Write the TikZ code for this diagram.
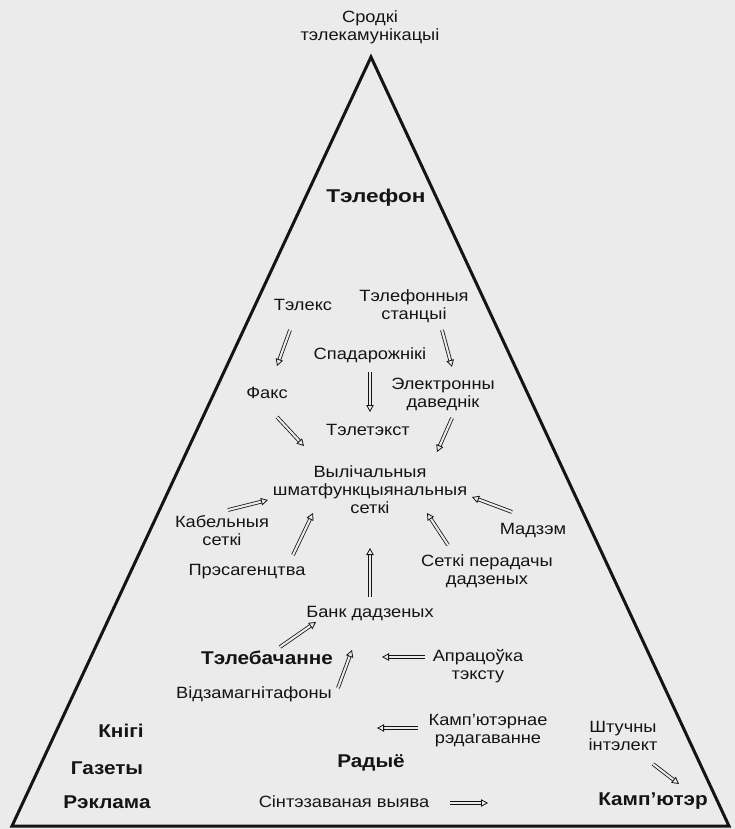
\documentclass[tikz,border=0pt]{standalone}
\usepackage{fontspec}
\setmainfont{Liberation Sans}[FakeStretch=1.12]
\usetikzlibrary{arrows.meta}
\definecolor{paper}{gray}{0.92}
\definecolor{ink}{gray}{0.08}
\begin{document}
\begin{tikzpicture}[x=1pt,y=-1pt,
  lbl/.style={font=\fontsize{16.3}{18}\selectfont, align=center, inner sep=0pt, text=ink},
  blbl/.style={font=\fontsize{18.5}{20}\selectfont\bfseries, align=center, inner sep=0pt, text=ink},
  harr/.style={draw=ink, line width=0.8pt, double=paper, double distance=2.1pt, -{Triangle[open, length=7pt, width=7.5pt]}}
]
\fill[paper] (0,0) rectangle (735,829);
\useasboundingbox (0,0) rectangle (735,829);
% triangle
\draw[ink, line width=3pt, line join=miter] (371,57) -- (729,826) -- (12,826) -- cycle;
% labels
\node[lbl] (src) at (370,27) {Сродкі\\тэлекамунікацыі};
\node[blbl] (phone) at (376,198) {\scalebox{1.09}[1]{Тэлефон}};
\node[lbl] (telex) at (303,305) {Тэлекс};
\node[lbl] (stat) at (414,306) {Тэлефонныя\\станцыі};
\node[lbl] (sat) at (370,355) {Спадарожнікі};
\node[lbl] (dir) at (443,394) {Электронны\\даведнік};
\node[lbl] (fax) at (267,393) {Факс};
\node[lbl] (ttx) at (368,430) {Тэлетэкст};
\node[lbl] (net) at (370,490) {Вылічальныя\\шматфункцыянальныя\\сеткі};
\node[lbl] (cable) at (222,531) {Кабельныя\\сеткі};
\node[lbl] (modem) at (533,531) {Мадзэм};
\node[lbl] (press) at (247,572) {Прэсагенцтва};
\node[lbl] (dnet) at (487,571) {Сеткі перадачы\\дадзеных};
\node[lbl] (bank) at (370,614) {Банк дадзеных};
\node[blbl] (tv) at (267,658) {Тэлебачанне};
\node[lbl] (proc) at (478,666) {Апрацоўка\\тэксту};
\node[lbl] (vcr) at (254,694) {Відзамагнітафоны};
\node[blbl] (books) at (121,731) {Кнігі};
\node[blbl] (news) at (107,768) {Газеты};
\node[blbl] (ads) at (107,802) {Рэклама};
\node[lbl] (edit) at (488,731) {Камп’ютэрнае\\рэдагаванне};
\node[blbl] (radio) at (371,763) {Радыё};
\node[lbl] (ai) at (623,736) {Штучны\\інтэлект};
\node[blbl] (comp) at (653,801) {Камп’ютэр};
\node[lbl] (synth) at (344,802) {Сінтэзаваная выява};
% arrow end points
\coordinate (a1s) at (290,330);  \coordinate (a1e) at (277,366);
\coordinate (a2s) at (442,330);  \coordinate (a2e) at (452,367);
\coordinate (a3s) at (370,372);  \coordinate (a3e) at (370,412);
\coordinate (a4s) at (277,417);  \coordinate (a4e) at (304,446);
\coordinate (a5s) at (452,418);  \coordinate (a5e) at (437,452);
\coordinate (a6s) at (228,510);  \coordinate (a6e) at (268,500);
\coordinate (a7s) at (512,512);  \coordinate (a7e) at (472,497);
\coordinate (a8s) at (448,545);  \coordinate (a8e) at (427,513);
\coordinate (a9s) at (293,555);  \coordinate (a9e) at (313,513);
\coordinate (a10s) at (370,597); \coordinate (a10e) at (370,548);
\coordinate (a11s) at (280,647); \coordinate (a11e) at (316,622);
\coordinate (a12s) at (338,688); \coordinate (a12e) at (352,650);
\coordinate (a13s) at (425,657); \coordinate (a13e) at (382,657);
\coordinate (a14s) at (418,728); \coordinate (a14e) at (377,728);
\coordinate (a15s) at (653,764); \coordinate (a15e) at (679,784);
\coordinate (a16s) at (450,803); \coordinate (a16e) at (488,803);
\foreach \i in {1,...,16} { \draw[harr] (a\i s) -- (a\i e); }
\end{tikzpicture}
\end{document}
